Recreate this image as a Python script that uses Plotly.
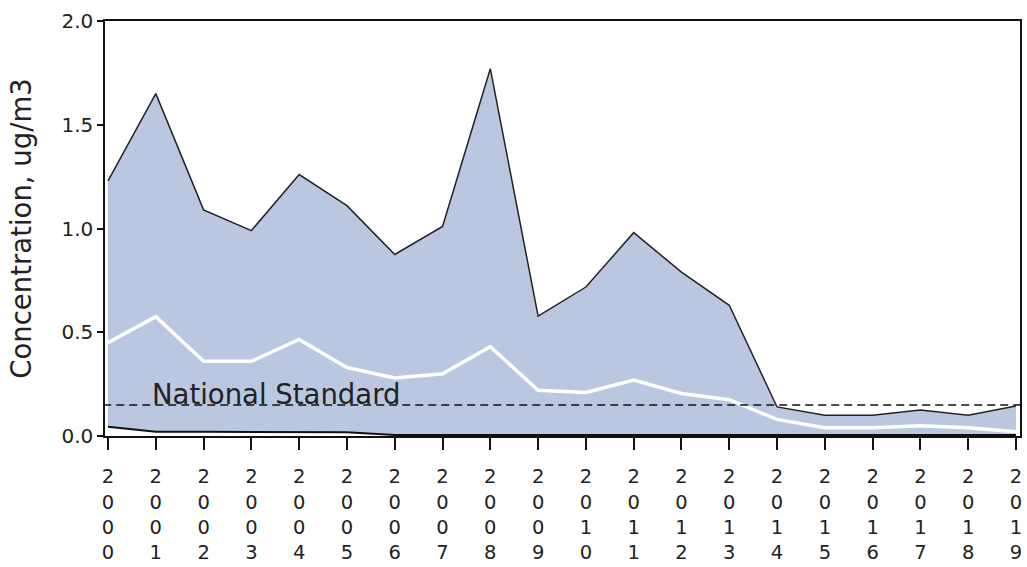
import plotly.graph_objects as go

years = list(range(2000, 2020))
max_vals = [1.23, 1.65, 1.09, 0.99, 1.26, 1.11, 0.875, 1.01, 1.77, 0.578,
            0.718, 0.98, 0.79, 0.63, 0.14, 0.10, 0.10, 0.125, 0.10, 0.145]
mean_vals = [0.45, 0.575, 0.36, 0.36, 0.465, 0.33, 0.28, 0.30, 0.43, 0.22,
             0.21, 0.27, 0.205, 0.175, 0.08, 0.04, 0.04, 0.05, 0.04, 0.02]
min_vals = [0.045, 0.02, 0.02, 0.02, 0.02, 0.018, 0.005, 0.005, 0.005, 0.005,
            0.005, 0.005, 0.005, 0.005, 0.005, 0.005, 0.005, 0.005, 0.005, 0.005]
standard = 0.15
tick_labels = ["<br>".join(str(y)) for y in years]

FONT = "DejaVu Sans"
fig = go.Figure()
fig.add_trace(go.Scatter(x=years, y=min_vals, mode="lines",
                         line=dict(color="#111111", width=2), showlegend=False))
fig.add_trace(go.Scatter(x=years, y=max_vals, mode="lines", fill="tonexty",
                         fillcolor="#bbc7e0",
                         line=dict(color="#222222", width=1.5), showlegend=False))
fig.add_trace(go.Scatter(x=years, y=mean_vals, mode="lines",
                         line=dict(color="white", width=3.5), showlegend=False))
fig.add_trace(go.Scatter(x=[1999.9, 2019.1], y=[standard, standard], mode="lines",
                         line=dict(color="#111111", width=1.5, dash="8px,5px"),
                         showlegend=False))

fig.add_annotation(x=2000.88, y=standard, xref="x", yref="y", text="National Standard",
                   showarrow=False, xanchor="left", yanchor="bottom", yshift=-7,
                   font=dict(family=FONT, size=27.5, color="#222222"))

fig.update_layout(
    width=1027, height=567,
    margin=dict(l=105, r=7, t=21, b=131, autoexpand=False),
    plot_bgcolor="white", paper_bgcolor="white",
    font=dict(family=FONT, color="#222222"),
    xaxis=dict(range=[1999.937, 2019.084], tickmode="array", tickvals=years,
               ticktext=tick_labels, ticks="outside", ticklen=12, tickwidth=1.5,
               tickcolor="#111111", showline=True, linecolor="#111111", linewidth=1.5,
               mirror=True, showgrid=False, zeroline=False, automargin=False,
               ticklabelstandoff=10,
               tickfont=dict(family=FONT, size=19.5, color="#222222")),
    yaxis=dict(range=[0, 2], tickmode="array", tickvals=[0, 0.5, 1.0, 1.5, 2.0],
               ticktext=["0.0", "0.5", "1.0", "1.5", "2.0"],
               ticks="outside", ticklen=6, tickwidth=1.5, tickcolor="#111111",
               showline=True, linecolor="#111111", linewidth=1.5, mirror=True,
               showgrid=False, zeroline=False, automargin=False,
               tickfont=dict(family=FONT, size=20, color="#222222"),
               title=dict(text="Concentration, ug/m3", standoff=22,
                          font=dict(family=FONT, size=27.5, color="#222222"))),
)
fig.write_html(
    "out.html",
    config={"displayModeBar": False},
    post_script="document.body.style.margin='0';document.body.style.overflow='hidden';",
)
